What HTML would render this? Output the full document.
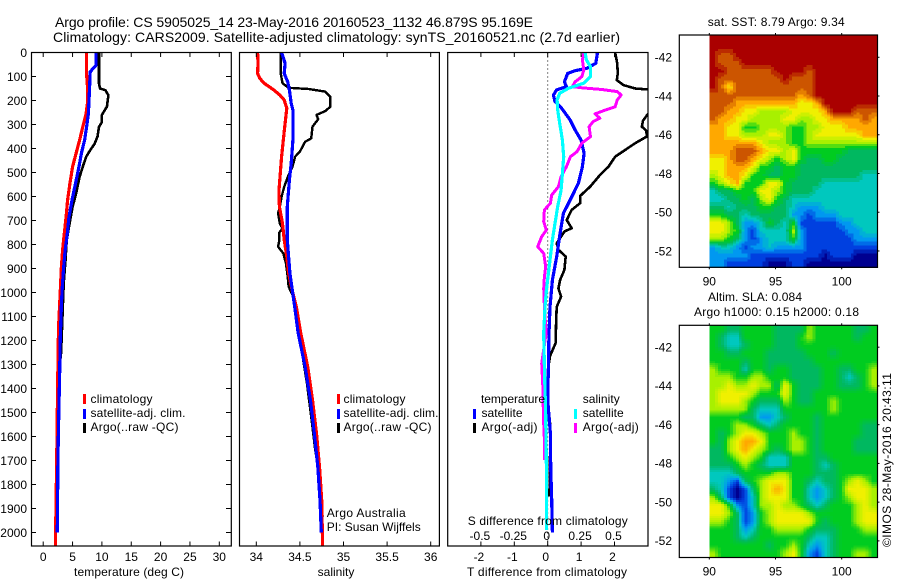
<!DOCTYPE html>
<html lang="en">
<head>
<meta charset="utf-8">
<title>Argo profile</title>
<style>
html,body{margin:0;padding:0;background:#fff}
svg{display:block}
text{font-family:"Liberation Sans",sans-serif;font-size:12px;fill:#000}
</style>
</head>
<body>
<svg id="fig" xmlns="http://www.w3.org/2000/svg" width="900" height="580" viewBox="0 0 900 580">
<defs>
<clipPath id="c1"><rect x="31.5" y="52.5" width="199.8" height="493.5"/></clipPath>
<clipPath id="c2"><rect x="239.5" y="52.5" width="200" height="493.5"/></clipPath>
<clipPath id="c3"><rect x="447.7" y="52.5" width="200.3" height="493.5"/></clipPath>
</defs>
<text x="55" y="27" font-size="14" style="font-size:14px" textLength="478">Argo profile: CS 5905025_14 23-May-2016 20160523_1132 46.879S 95.169E</text>
<text x="53" y="42" style="font-size:14px" textLength="567">Climatology: CARS2009. Satellite-adjusted climatology: synTS_20160521.nc (2.7d earlier)</text>

<g id="maps"></g>
<g id="panels"></g>

<g>
<rect x="83" y="394" width="3" height="10" fill="#f00"/>
<rect x="83" y="409" width="3" height="10" fill="#00f"/>
<rect x="83" y="423" width="3" height="10" fill="#000"/>
<text x="90.5" y="403" textLength="62">climatology</text>
<text x="90.5" y="417" textLength="95">satellite-adj. clim.</text>
<text x="90.5" y="431" textLength="88">Argo(..raw -QC)</text>
</g>
<g>
<rect x="337" y="394" width="3" height="10" fill="#f00"/>
<rect x="337" y="409" width="3" height="10" fill="#00f"/>
<rect x="337" y="423" width="3" height="10" fill="#000"/>
<text x="343.5" y="403" textLength="62">climatology</text>
<text x="343.5" y="417" textLength="95">satellite-adj. clim.</text>
<text x="343.5" y="431" textLength="88">Argo(..raw -QC)</text>
<text x="326.7" y="517" textLength="79">Argo Australia</text>
<text x="326.7" y="531" textLength="94">PI: Susan Wijffels</text>
</g>
<g>
<text x="481" y="403" textLength="64">temperature</text>
<rect x="473" y="409" width="3" height="10" fill="#00f"/>
<text x="481.5" y="417" textLength="41">satellite</text>
<rect x="473" y="423" width="3" height="10" fill="#000"/>
<text x="481.5" y="431" textLength="56">Argo(-adj)</text>
<text x="582.7" y="403" textLength="37">salinity</text>
<rect x="574" y="409" width="3" height="10" fill="#0ff"/>
<text x="582.7" y="417" textLength="41">satellite</text>
<rect x="574" y="423" width="3" height="10" fill="#f0f"/>
<text x="582.7" y="431" textLength="56">Argo(-adj)</text>
<text x="467.7" y="525" textLength="160">S difference from climatology</text>
</g>

<text x="74" y="576" textLength="110">temperature (deg C)</text>
<text x="336" y="576" text-anchor="middle">salinity</text>
<text x="467" y="576" textLength="160">T difference from climatology</text>
<text x="707.7" y="26" textLength="137">sat. SST: 8.79 Argo: 9.34</text>
<text x="708" y="301" textLength="94">Altim. SLA: 0.084</text>
<text x="694" y="316" textLength="165">Argo h1000: 0.15 h2000: 0.18</text>
<text transform="translate(891 547) rotate(-90)" textLength="174">©IMOS 28-May-2016 20:43:11</text>
</svg>

<script>
// ---------- axis tick labels ----------
const depthTicks = [0,100,200,300,400,500,600,700,800,900,1000,1100,1200,1300,1400,1500,1600,1700,1800,1900,2000];
const tempTicks = [0,5,10,15,20,25,30];
const salTicks = [34,34.5,35,35.5,36];
const tDiffTicks = [-2,-1,0,1,2];
const sDiffTicks = [-0.5,-0.25,0,0.25,0.5];
const sDiffLabels = ['-0.5','-0.25','0','0.25','0.5'];
const lonTicks = [90,95,100];
const latTicks = [-42,-44,-46,-48,-50,-52];

// ---------- temperature panel ----------
const tempArgoDepth = [0,130,150,157,178,226,260,290,310,350,380,407,435,476,518,587,643,726,782,865,962,1050,1150,1250,1370];
const tempArgo = [9.5,9.5,9.7,10.6,11.1,10.85,10,10,9.5,9.25,8.75,8,7.3,6.75,6.2,5.6,5,4.4,4,3.8,3.5,3.35,3.2,3.05,2.5];
const tempClimDepth = [0,90,143,200,254,310,365,420,476,546,615,685,754,823,893,976,1150,1400,1700,1950,2056];
const tempClim = [7.4,7.4,7.55,7.6,7.3,6.75,6.2,5.6,5,4.55,4.15,3.9,3.6,3.3,3.1,2.95,2.6,2.45,2.3,2.15,2.1];
const tempSatDepth = [0,53,60,80,143,200,254,310,365,420,476,546,615,685,754,823,893,976,1050,1200,1350,1500,1700,2000];
const tempSat = [9,9,8.75,8,7.9,7.8,7.7,7.4,7.05,6.5,6.1,5.5,4.9,4.4,4.1,3.75,3.5,3.25,3.1,2.9,2.8,2.65,2.5,2.4];

// ---------- salinity panel ----------
const salArgoDepth = [0,87,128,147,152,163,184,226,244,260,278,309,358,372,413,434,476,510,559,601,642,670,712,733,750,781,809,837,878,934,976,1017,1060,1170,1240,1378,1517,1656,1809,1934];
const salArgo = [34.28,34.28,34.3,34.37,34.6,34.79,34.85,34.85,34.79,34.69,34.71,34.645,34.63,34.56,34.5,34.445,34.415,34.37,34.32,34.29,34.27,34.25,34.27,34.3,34.265,34.265,34.25,34.31,34.34,34.36,34.37,34.425,34.445,34.49,34.52,34.58,34.63,34.675,34.745,34.76];
const salClimDepth = [0,45,87,108,128,156,177,198,233,295,365,434,503,573,642,712,781,850,920,990,1060,1170,1309,1448,1587,1726,1865,2056];
const salClim = [34.015,34.02,34.015,34.04,34.09,34.2,34.27,34.32,34.35,34.33,34.31,34.29,34.275,34.26,34.265,34.3,34.32,34.35,34.37,34.41,34.46,34.51,34.59,34.645,34.69,34.725,34.75,34.76];
const salSatDepth = [0,45,87,122,156,212,240,365,462,531,642,781,920,1060,1170,1309,1448,1587,1726,1865,2000];
const salSat = [34.29,34.33,34.32,34.36,34.38,34.4,34.42,34.42,34.4,34.38,34.355,34.355,34.385,34.44,34.48,34.56,34.62,34.665,34.705,34.73,34.745];

// ---------- difference panel ----------
const dTSatDepth = [0,45,66,76,87,122,142,156,177,205,233,281,323,365,420,476,545,615,670,753,850,948,1060,1170,1309,1448,1587,1726,1865,2000];
const dTSat = [1.49,1.44,1.17,0.82,0.6,0.5,0.56,0.27,0.17,0.22,0.42,0.67,0.82,1,1.09,1.04,0.92,0.67,0.47,0.37,0.27,0.14,0.07,0.04,0.02,0,0.08,0.09,0.12,0.14];
const dTArgoDepth = [0,45,87,115,136,150,154,170,230,250,260,285,309,325,350,378,406,434,476,510,559,598,628,656,698,732,746,795,822,850,906,948,983,1017,1060,1126,1210,1265,1309,1448,1559,1809,1850];
const dTArgo = [2.02,2.08,2.1,2.07,2.27,2.62,3.02,3.6,3.4,3.05,2.98,2.85,2.82,2.95,2.97,2.62,2.32,2.02,1.82,1.57,1.27,0.97,0.97,0.72,0.57,0.72,0.5,0.27,0.32,0.54,0.5,0.37,0.32,0.4,0.27,0.25,0.24,0.07,0.02,0,0.08,0.06,0.04];
const dSSatDepth = [0,31,59,101,128,149,170,198,240,295,365,434,503,573,642,712,781,850,920,990,1060,1170,1309,1517,1726,1990];
const dSSat = [0.28,0.29,0.32,0.32,0.27,0.155,0.09,0.07,0.075,0.09,0.11,0.12,0.11,0.1,0.075,0.055,0.035,0.02,0.005,-0.01,-0.02,-0.03,-0.025,-0.015,-0.01,-0.008];
const dSArgoDepth = [0,31,73,101,122,142,147,154,163,177,198,226,240,256,274,288,309,351,378,413,434,476,517,559,594,628,656,705,740,767,809,837,892,934,983,1060,1170,1295,1406,1517,1614,1698];
const dSArgo = [0.27,0.26,0.27,0.255,0.205,0.185,0.255,0.405,0.52,0.55,0.52,0.505,0.43,0.355,0.39,0.34,0.31,0.32,0.255,0.22,0.17,0.14,0.1,0.08,0.03,0.02,-0.025,-0.03,-0.01,-0.045,-0.075,-0.03,-0.015,-0.025,-0.03,-0.025,-0.012,-0.045,-0.035,-0.032,-0.025,-0.025];

// ---------- map grids (colour-level values, north to south, west to east) ----------
const sstGrid = [
[10,10,10,10,10,10,10,10,10,10,10,10,10,10,10,10,10,10,10,10,10],
[10,10,10,10,10,10,10,10,10,10,10,10,10,10,10,10,10,10,10,10,10],
[10,9,9,10,10,10,10,10,10,10,10,10,10,10,10,10,10,10,10,10,10],
[10,9,9,9,10,10,10,10,10,10,10,10,10,10,10,10,10,10,10,10,10],
[10,10,9,9,9,9,9,9,10,10,10,10,9,10,10,10,10,10,10,10,10],
[10,9,9,9,9,9,9,9,9,10,9,9,9,10,10,10,10,10,10,10,10],
[10,9,7,9,9,9,9,9,9,9,9,9,9,10,10,10,10,10,10,10,10],
[9,9,9,9,9,9,9,9,9,9,9,8,9,10,10,10,10,10,10,10,10],
[9,9,9,8,8,8,8,8,8,8,8,7,7,8,10,10,10,10,10,10,10],
[9,9,8,8,7,7,6,6,6,6,7,7,7,7,8,10,10,10,9,9,9],
[9,8,8,7,7,6,6,6,6,7,7,6,6,7,7,8,8,8,8,9,8],
[8,8,7,7,5,5,6,6,6,6,5,5,6,6,7,7,7,8,8,8,8],
[8,8,7,7,6,6,6,7,7,6,5,5,6,7,7,7,7,7,7,8,8],
[8,8,8,8,8,8,7,6,6,6,5,5,6,6,6,6,6,6,6,6,6],
[8,8,8,9,9,9,8,7,7,6,7,5,5,5,5,5,5,4,4,4,4],
[7,7,8,9,9,8,7,6,5,6,7,5,4,4,5,5,4,4,4,4,4],
[7,7,8,8,8,7,5,5,4,5,5,4,4,4,4,4,4,4,4,4,4],
[6,7,8,8,7,5,5,4,4,5,5,4,4,4,4,4,4,4,4,3,3],
[5,6,7,8,5,5,5,7,7,5,4,4,4,4,3,3,3,3,3,3,3],
[3,4,4,5,5,5,7,7,6,5,4,4,4,3,3,3,3,3,3,3,3],
[3,3,4,4,5,4,6,7,5,4,3,3,3,3,3,3,3,3,3,3,3],
[4,4,3,4,4,4,5,5,4,4,3,2,2,2,3,3,3,3,3,3,3],
[5,5,4,4,3,4,4,4,4,4,2,2,1,2,2,2,3,3,3,3,3],
[7,7,6,4,2,2,3,5,4,3,5,1,1,1,1,1,2,2,3,3,3],
[7,7,6,5,2,1,3,3,3,3,6,2,1,1,1,1,1,2,2,3,3],
[6,6,5,4,2,1,2,3,3,3,5,2,1,1,1,1,1,1,2,2,2],
[2,3,3,2,1,2,2,3,2,2,2,2,1,1,1,1,1,1,1,1,1],
[2,2,2,2,2,1,1,1,1,1,1,1,1,1,0,1,1,1,0,0,0],
[2,2,1,1,1,1,1,0,0,0,1,1,0,0,0,0,0,0,0,0,0]
];
const slaGrid = [
[5,5,4,4,5,5,5,5,4,4,4,4,6,5,5,5,5,5,4,4,5],
[5,4,3,3,5,5,5,5,4,4,4,5,6,5,5,5,5,5,4,5,5],
[5,4,3,3,4,5,5,5,4,4,4,5,5,5,5,5,5,5,5,5,5],
[5,5,4,4,5,5,5,4,4,4,4,4,5,5,5,4,5,5,5,5,5],
[5,5,5,5,4,5,5,4,4,4,4,4,4,5,5,5,5,5,5,5,5],
[6,5,5,5,3,5,5,4,5,5,4,4,4,4,5,5,4,4,5,5,6],
[6,6,6,5,5,6,6,5,5,5,4,4,4,4,5,5,4,3,4,5,6],
[6,6,7,6,6,7,6,6,4,7,5,4,4,4,5,5,4,4,4,5,6],
[6,7,7,7,7,6,5,5,5,7,5,4,4,5,5,5,5,5,5,5,5],
[6,7,7,7,6,5,4,4,4,6,5,4,4,5,5,6,5,5,5,5,5],
[6,6,6,6,6,4,3,3,3,5,5,5,5,5,5,6,5,5,5,5,5],
[5,5,5,5,4,4,2,2,3,4,5,5,5,4,5,5,5,5,5,5,5],
[5,5,5,6,6,5,4,3,4,5,5,5,5,4,5,5,5,5,5,4,4],
[5,4,5,6,7,7,6,5,5,5,6,5,5,4,5,5,5,5,5,4,4],
[5,4,6,7,8,8,7,5,5,5,6,6,5,4,5,5,5,5,4,4,4],
[4,4,6,7,8,7,6,5,4,5,6,6,5,4,5,5,5,5,4,4,4],
[4,4,5,6,7,6,5,3,3,3,5,5,5,4,4,5,5,5,5,5,5],
[4,4,4,5,6,5,4,3,3,3,5,5,5,4,3,4,5,5,5,5,5],
[3,3,3,4,5,5,5,5,6,6,5,5,5,4,4,4,5,5,5,5,5],
[3,3,2,1,4,5,6,7,7,7,5,5,4,3,4,4,5,6,7,6,5],
[4,3,1,0,1,4,6,7,8,7,5,5,3,2,3,4,5,7,7,7,6],
[6,4,1,0,1,3,6,7,7,7,5,5,3,2,3,4,5,6,7,7,6],
[7,7,5,2,1,3,6,6,7,6,6,5,4,3,4,5,5,5,6,7,6],
[7,7,6,4,1,2,5,6,7,7,7,7,6,5,5,5,5,5,6,7,7],
[6,6,5,4,1,2,5,6,7,7,7,7,7,5,4,5,5,5,6,7,7],
[5,5,5,4,2,3,5,5,6,6,6,6,5,4,4,4,5,5,5,6,6],
[5,5,5,4,3,4,5,5,5,5,5,5,4,3,3,4,5,5,5,5,5],
[5,5,5,5,5,5,5,4,5,5,6,5,3,2,3,4,5,5,5,5,5],
[6,5,5,5,5,5,5,5,5,6,7,5,2,1,3,4,5,5,6,6,5]
];
const levelColors = [[0,0,144],[0,64,224],[0,152,240],[0,200,190],[0,184,96],[0,204,32],[168,240,0],[240,240,0],[255,168,0],[204,85,0],[170,0,0]];

// ---------- drawing ----------
const NS = 'http://www.w3.org/2000/svg';
const panelsRoot = document.getElementById('panels');
const mapsRoot = document.getElementById('maps');
function make(tag, attrs, parent) {
  const el = document.createElementNS(NS, tag);
  for (const k in attrs) el.setAttribute(k, attrs[k]);
  parent.appendChild(el);
  return el;
}
const depthTop = 52.5, depthScale = 0.24;
function yDepth(d) { return depthTop + d * depthScale; }
const PANEL_BOTTOM = 546;

function xTemp(v) { return 43.2 + v * 5.87; }
function xSal(v) { return 256.3 + (v - 34) * 87.2; }
function xDT(v) { return 547.7 + v * 33.4; }
function xDS(v) { return 547.7 + v * 133.6; }

function drawProfile(parent, depths, values, xf, color, width, clip, name) {
  const pts = depths.map(function (d, i) { return xf(values[i]).toFixed(1) + ',' + yDepth(d).toFixed(1); }).join(' ');
  const line = make('polyline', {points: pts, fill: 'none', stroke: color, 'stroke-width': width, 'clip-path': 'url(#' + clip + ')', 'shape-rendering': 'crispEdges', 'stroke-linejoin': 'round'}, parent);
  
  
}
function drawBox(parent, x0, x1, y0, y1, name) {
  const box = make('rect', {x: x0, y: y0, width: x1 - x0, height: y1 - y0, fill: 'none', stroke: '#000', 'stroke-width': 1.2}, parent);
  
  
}
function tick(parent, x1, y1, x2, y2) {
  const t = make('line', {x1: x1, y1: y1, x2: x2, y2: y2, stroke: '#000', 'stroke-width': 1}, parent);
  
  
}
function label(parent, x, y, str, anchor) {
  const t = make('text', {x: x, y: y, 'text-anchor': anchor}, parent);
  t.textContent = str;
  
  
}

// temperature panel
const p1 = make('g', {}, panelsRoot);


drawProfile(p1, tempArgoDepth, tempArgo, xTemp, '#000', 2.6, 'c1', 'temperature-argo-line');
drawProfile(p1, tempClimDepth, tempClim, xTemp, '#f00', 3.2, 'c1', 'temperature-climatology-line');
drawProfile(p1, tempSatDepth, tempSat, xTemp, '#00f', 3.2, 'c1', 'temperature-satellite-line');
drawBox(p1, 31.5, 231.3, depthTop, PANEL_BOTTOM, 'temperature-axes-box');
depthTicks.forEach(function (d) {
  tick(p1, 31.5, yDepth(d), 36, yDepth(d));
  tick(p1, 226, yDepth(d), 231.3, yDepth(d));
  label(p1, 27, yDepth(d) + 4.3, String(d), 'end');
});
tempTicks.forEach(function (v) {
  tick(p1, xTemp(v), depthTop, xTemp(v), depthTop + 4.5);
  tick(p1, xTemp(v), PANEL_BOTTOM, xTemp(v), PANEL_BOTTOM - 4.5);
  label(p1, xTemp(v), 561, String(v), 'middle');
});

// salinity panel
const p2 = make('g', {}, panelsRoot);


drawProfile(p2, salArgoDepth, salArgo, xSal, '#000', 2.4, 'c2', 'salinity-argo-line');
drawProfile(p2, salClimDepth, salClim, xSal, '#f00', 3.2, 'c2', 'salinity-climatology-line');
drawProfile(p2, salSatDepth, salSat, xSal, '#00f', 3.2, 'c2', 'salinity-satellite-line');
drawBox(p2, 239.5, 439.4, depthTop, PANEL_BOTTOM, 'salinity-axes-box');
salTicks.forEach(function (v) {
  tick(p2, xSal(v), depthTop, xSal(v), depthTop + 4.5);
  tick(p2, xSal(v), PANEL_BOTTOM, xSal(v), PANEL_BOTTOM - 4.5);
  label(p2, xSal(v), 561, String(v), 'middle');
});

// difference panel
const p3 = make('g', {}, panelsRoot);


const zeroLine = make('line', {x1: xDT(0), y1: depthTop, x2: xDT(0), y2: PANEL_BOTTOM, stroke: '#000', 'stroke-width': 1, 'stroke-dasharray': '1 3'}, p3);


drawProfile(p3, dTArgoDepth, dTArgo, xDT, '#000', 2.6, 'c3', 'temperature-diff-argo-line');
drawProfile(p3, dTSatDepth, dTSat, xDT, '#00f', 3.2, 'c3', 'temperature-diff-satellite-line');
drawProfile(p3, dSArgoDepth, dSArgo, xDS, '#f0f', 3, 'c3', 'salinity-diff-argo-line');
drawProfile(p3, dSSatDepth, dSSat, xDS, '#0ff', 3.2, 'c3', 'salinity-diff-satellite-line');
drawBox(p3, 447.7, 648, depthTop, PANEL_BOTTOM, 'difference-axes-box');
tDiffTicks.forEach(function (v) {
  tick(p3, xDT(v), depthTop, xDT(v), depthTop + 4.5);
  tick(p3, xDT(v), PANEL_BOTTOM, xDT(v), PANEL_BOTTOM - 4.5);
  label(p3, xDT(v) - 2, 561, String(v), 'middle');
});
sDiffTicks.forEach(function (v, i) {
  label(p3, xDS(v) - 1, 540, sDiffLabels[i], 'middle');
});

// maps
const lonScale = 13.24;
function xLon(v) { return 709.3 + (v - 90) * lonScale; }
const LON_RIGHT = 102.69;
// bilinear sample of a grid at fractional column / row position
function sampleGrid(grid, fx, fy) {
  const rows = grid.length, cols = grid[0].length;
  const gx = Math.max(0, Math.min(cols - 1, fx * cols - 0.5));
  const gy = Math.max(0, Math.min(rows - 1, fy * rows - 0.5));
  const i0 = Math.floor(gx), j0 = Math.floor(gy);
  const i1 = Math.min(cols - 1, i0 + 1), j1 = Math.min(rows - 1, j0 + 1);
  const a = gx - i0, b = gy - j0;
  return (grid[j0][i0] * (1 - a) + grid[j0][i1] * a) * (1 - b) + (grid[j1][i0] * (1 - a) + grid[j1][i1] * a) * b;
}
function levelColor(v) {
  const i = Math.max(0, Math.min(levelColors.length - 2, Math.floor(v)));
  const f = v - i;
  const c0 = levelColors[i], c1 = levelColors[i + 1];
  return 'rgb(' + Math.round(c0[0] + (c1[0] - c0[0]) * f) + ',' + Math.round(c0[1] + (c1[1] - c0[1]) * f) + ',' + Math.round(c0[2] + (c1[2] - c0[2]) * f) + ')';
}
function drawMap(grid, top, bottom, latN, latPx, bandsPerLevel, name) {
  const g = make('g', {'shape-rendering': 'crispEdges'}, mapsRoot);
  
  
  const left = xLon(90), right = xLon(LON_RIGHT);
  const pixelW = 3, pixelH = 2;
  const nx = Math.ceil((right - left) / pixelW), ny = Math.ceil((bottom - top) / pixelH);
  for (let j = 0; j < ny; j++) {
    for (let i = 0; i < nx; i++) {
      const fx = (i + 0.5) / nx, fy = (j + 0.5) / ny;
      const v = Math.round(sampleGrid(grid, fx, fy) * bandsPerLevel) / bandsPerLevel;
      const x0 = left + i * (right - left) / nx;
      const y0 = top + j * (bottom - top) / ny;
      const c = make('rect', {x: x0.toFixed(2), y: y0.toFixed(2), width: ((right - left) / nx + 0.5).toFixed(2), height: ((bottom - top) / ny + 0.5).toFixed(2), fill: levelColor(v)}, g);
      
      
    }
  }
  const frame = make('g', {'shape-rendering': 'auto'}, g);
  
  
  drawBox(frame, 679.3, 877.5, top, bottom, name + '-axes-box');
  lonTicks.forEach(function (v) {
    tick(frame, xLon(v), top, xLon(v), top - 2);
    tick(frame, xLon(v), bottom, xLon(v), bottom + 2);
    label(frame, xLon(v), bottom + 18, String(v), 'middle');
  });
  latTicks.forEach(function (v) {
    const y = top + (latN - v) * latPx;
    tick(frame, 877.5, y, 879.5, y);
    label(frame, 672, y + 4.3, String(v), 'end');
  });
}
drawMap(sstGrid, 35, 267.3, -40.85, 19.37, 2, 'sst-map');
drawMap(slaGrid, 325.3, 557.5, -40.87, 19.37, 8, 'sla-map');
</script>
</body>
</html>
